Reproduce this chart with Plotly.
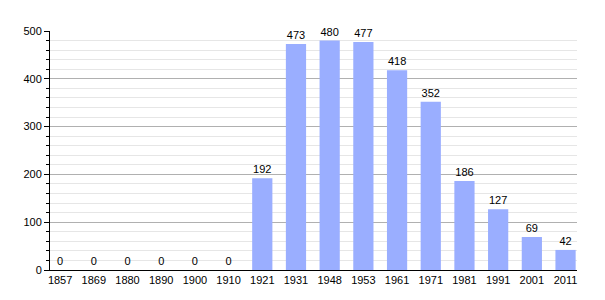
import plotly.graph_objects as go

years = ["1857", "1869", "1880", "1890", "1900", "1910", "1921", "1931", "1948", "1953",
         "1961", "1971", "1981", "1991", "2001", "2011"]
population = [0, 0, 0, 0, 0, 0, 192, 473, 480, 477, 418, 352, 186, 127, 69, 42]

fig = go.Figure(go.Bar(
    x=years, y=population, width=0.6,
    marker=dict(color="#9aaeff", line=dict(width=0)),
    text=[str(v) for v in population], textposition="outside",
    textfont=dict(family="Liberation Sans, Arial, sans-serif", size=11, color="#000"),
    cliponaxis=False,
))

fig.update_layout(
    width=605, height=300,
    margin=dict(l=50, r=28, t=31, b=30),
    paper_bgcolor="white", plot_bgcolor="white",
    font=dict(family="Liberation Sans, Arial, sans-serif", size=11, color="#000"),
    showlegend=False,
    bargap=0.4,
)
fig.update_xaxes(
    type="category", range=[-0.3, 15.34],
    showline=True, linecolor="#000", linewidth=1,
    showgrid=False, ticks="", tickfont=dict(size=11),
)
fig.update_yaxes(
    range=[0, 500], dtick=100,
    showline=True, linecolor="#000", linewidth=1,
    showgrid=True, gridcolor="#b0b0b0", gridwidth=1,
    ticks="outside", ticklen=5, tickcolor="#000",
    minor=dict(dtick=20, showgrid=True, gridcolor="#e6e6e6", ticks="outside", ticklen=3, tickcolor="#000"),
    zeroline=False, tickfont=dict(size=11),
)

fig.write_html("out.html")
